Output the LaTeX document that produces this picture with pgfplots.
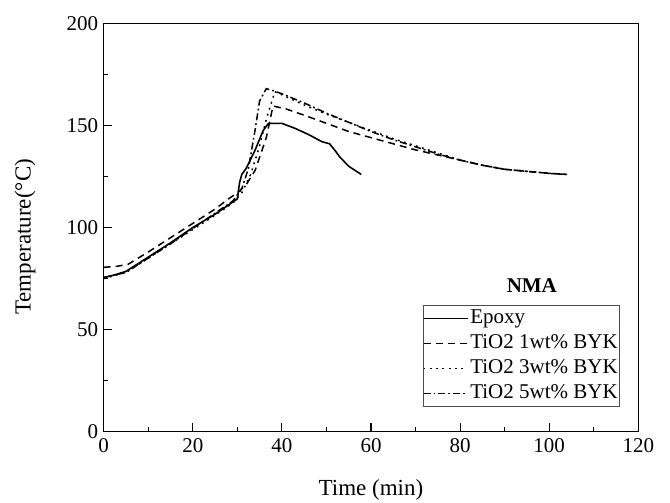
\documentclass[border=0pt]{standalone}
\usepackage{pgfplots}
\pgfplotsset{compat=1.18}
\usepackage{fontspec}
\setmainfont{Liberation Serif}
\begin{document}
\begin{tikzpicture}
\path[use as bounding box] (-103.7pt,-71.3pt) rectangle (566.3pt,431.7pt);
\begin{axis}[
  at={(0pt,0pt)}, anchor=south west,
  scale only axis, width=534.6pt, height=408.4pt,
  xmin=0, xmax=120, ymin=0, ymax=200,
  xtick={0,20,...,120}, ytick={0,50,...,200},
  minor x tick num=1, minor y tick num=1,
  tick pos=left, tick align=inside,
  major tick length=8.5pt, minor tick length=4.5pt,
  axis line style={line width=1.3pt},
  every tick/.style={line width=1.2pt, black},
  /pgf/number format/assume math mode=true,
  ticklabel style={font=\fontsize{21}{25}\selectfont},
  xticklabel style={yshift=-3pt},
  yticklabel style={xshift=-2pt},
  xlabel={Time (min)}, ylabel={Temperature(°C)},
  label style={font=\fontsize{23}{27}\selectfont},
  xlabel style={at={(axis description cs:0.5,-0.143)}, anchor=center},
  ylabel style={at={(axis description cs:-0.147,0.477)}, anchor=center},
  legend cell align=left,
  legend style={at={(axis cs:115.9,12.2)}, anchor=south east,
    draw=black!70, line width=0.6pt, font=\fontsize{21}{21}\selectfont,
    inner xsep=0pt, inner ysep=0.5pt, row sep=0pt,
    nodes={inner xsep=2pt, inner ysep=2.5pt, text height=15pt, text depth=5pt}},
  legend image code/.code={\draw[#1, line width=1.5pt] (0pt,0pt) -- (44pt,0pt);},
]
\addplot[black, line width=1.6pt] coordinates {
(0,75.5) (2,76.5) (5,78.5) (10,85.5) (15,92.5) (20,100) (25,106.5) (30,114)
(30.5,122) (31,126) (32,129) (34,138) (35.8,147.5) (37,151) (40,151) (43,148.5)
(46,145.5) (49,142) (50.7,141) (52,137.5) (53,134.5) (55,130) (57.8,126)};
\addlegendentry{Epoxy}
\addplot[black, line width=1.5pt, dash pattern=on 7pt off 5pt] coordinates {
(0,80.5) (3,81) (5.5,82) (10,88) (15,95) (20,102) (25,109) (28,114) (30,117)
(32,121) (34,128) (36.5,144) (38,159.5) (41,158) (45,155) (50,151) (55,147)
(60,144) (65,141) (70,138) (75,135.5) (80,133) (85,130.5) (90,128.5) (95,127.5)
(100,126.5) (104,126)};
\addlegendentry{TiO2 1wt\% BYK}
\addplot[black, line width=1.5pt, dash pattern=on 1.8pt off 4.5pt] coordinates {
(0,75) (5,78) (10,85) (15,92) (20,99) (25,106) (29,112) (31,117) (33,126)
(35,140) (36.5,153) (38.4,166.5) (40,165) (45,160) (50,155.5) (55,151.5)
(60,147.5) (65,143.5) (70,140) (75,136.5) (80,133) (85,130.5) (90,128.5)
(95,127.5) (100,126.5) (104,126)};
\addlegendentry{TiO2 3wt\% BYK}
\addplot[black, line width=1.5pt, dash pattern=on 7pt off 3pt on 1.8pt off 3pt] coordinates {
(0,75.5) (5,78) (10,85) (15,92) (20,99.5) (25,107) (29,113) (31,119) (32.5,129)
(34,148) (35,162) (36.5,168) (38,167) (40,165.5) (45,161) (50,156) (55,151.5)
(60,147) (65,143) (70,139.5) (75,136) (80,133) (85,130.5) (90,128.5) (95,127.5)
(100,126.5) (104,126)};
\addlegendentry{TiO2 5wt\% BYK}
\node[font=\fontsize{21}{25}\selectfont\bfseries] at (axis cs:96.1,71.8) {NMA};
\end{axis}
\end{tikzpicture}
\end{document}
